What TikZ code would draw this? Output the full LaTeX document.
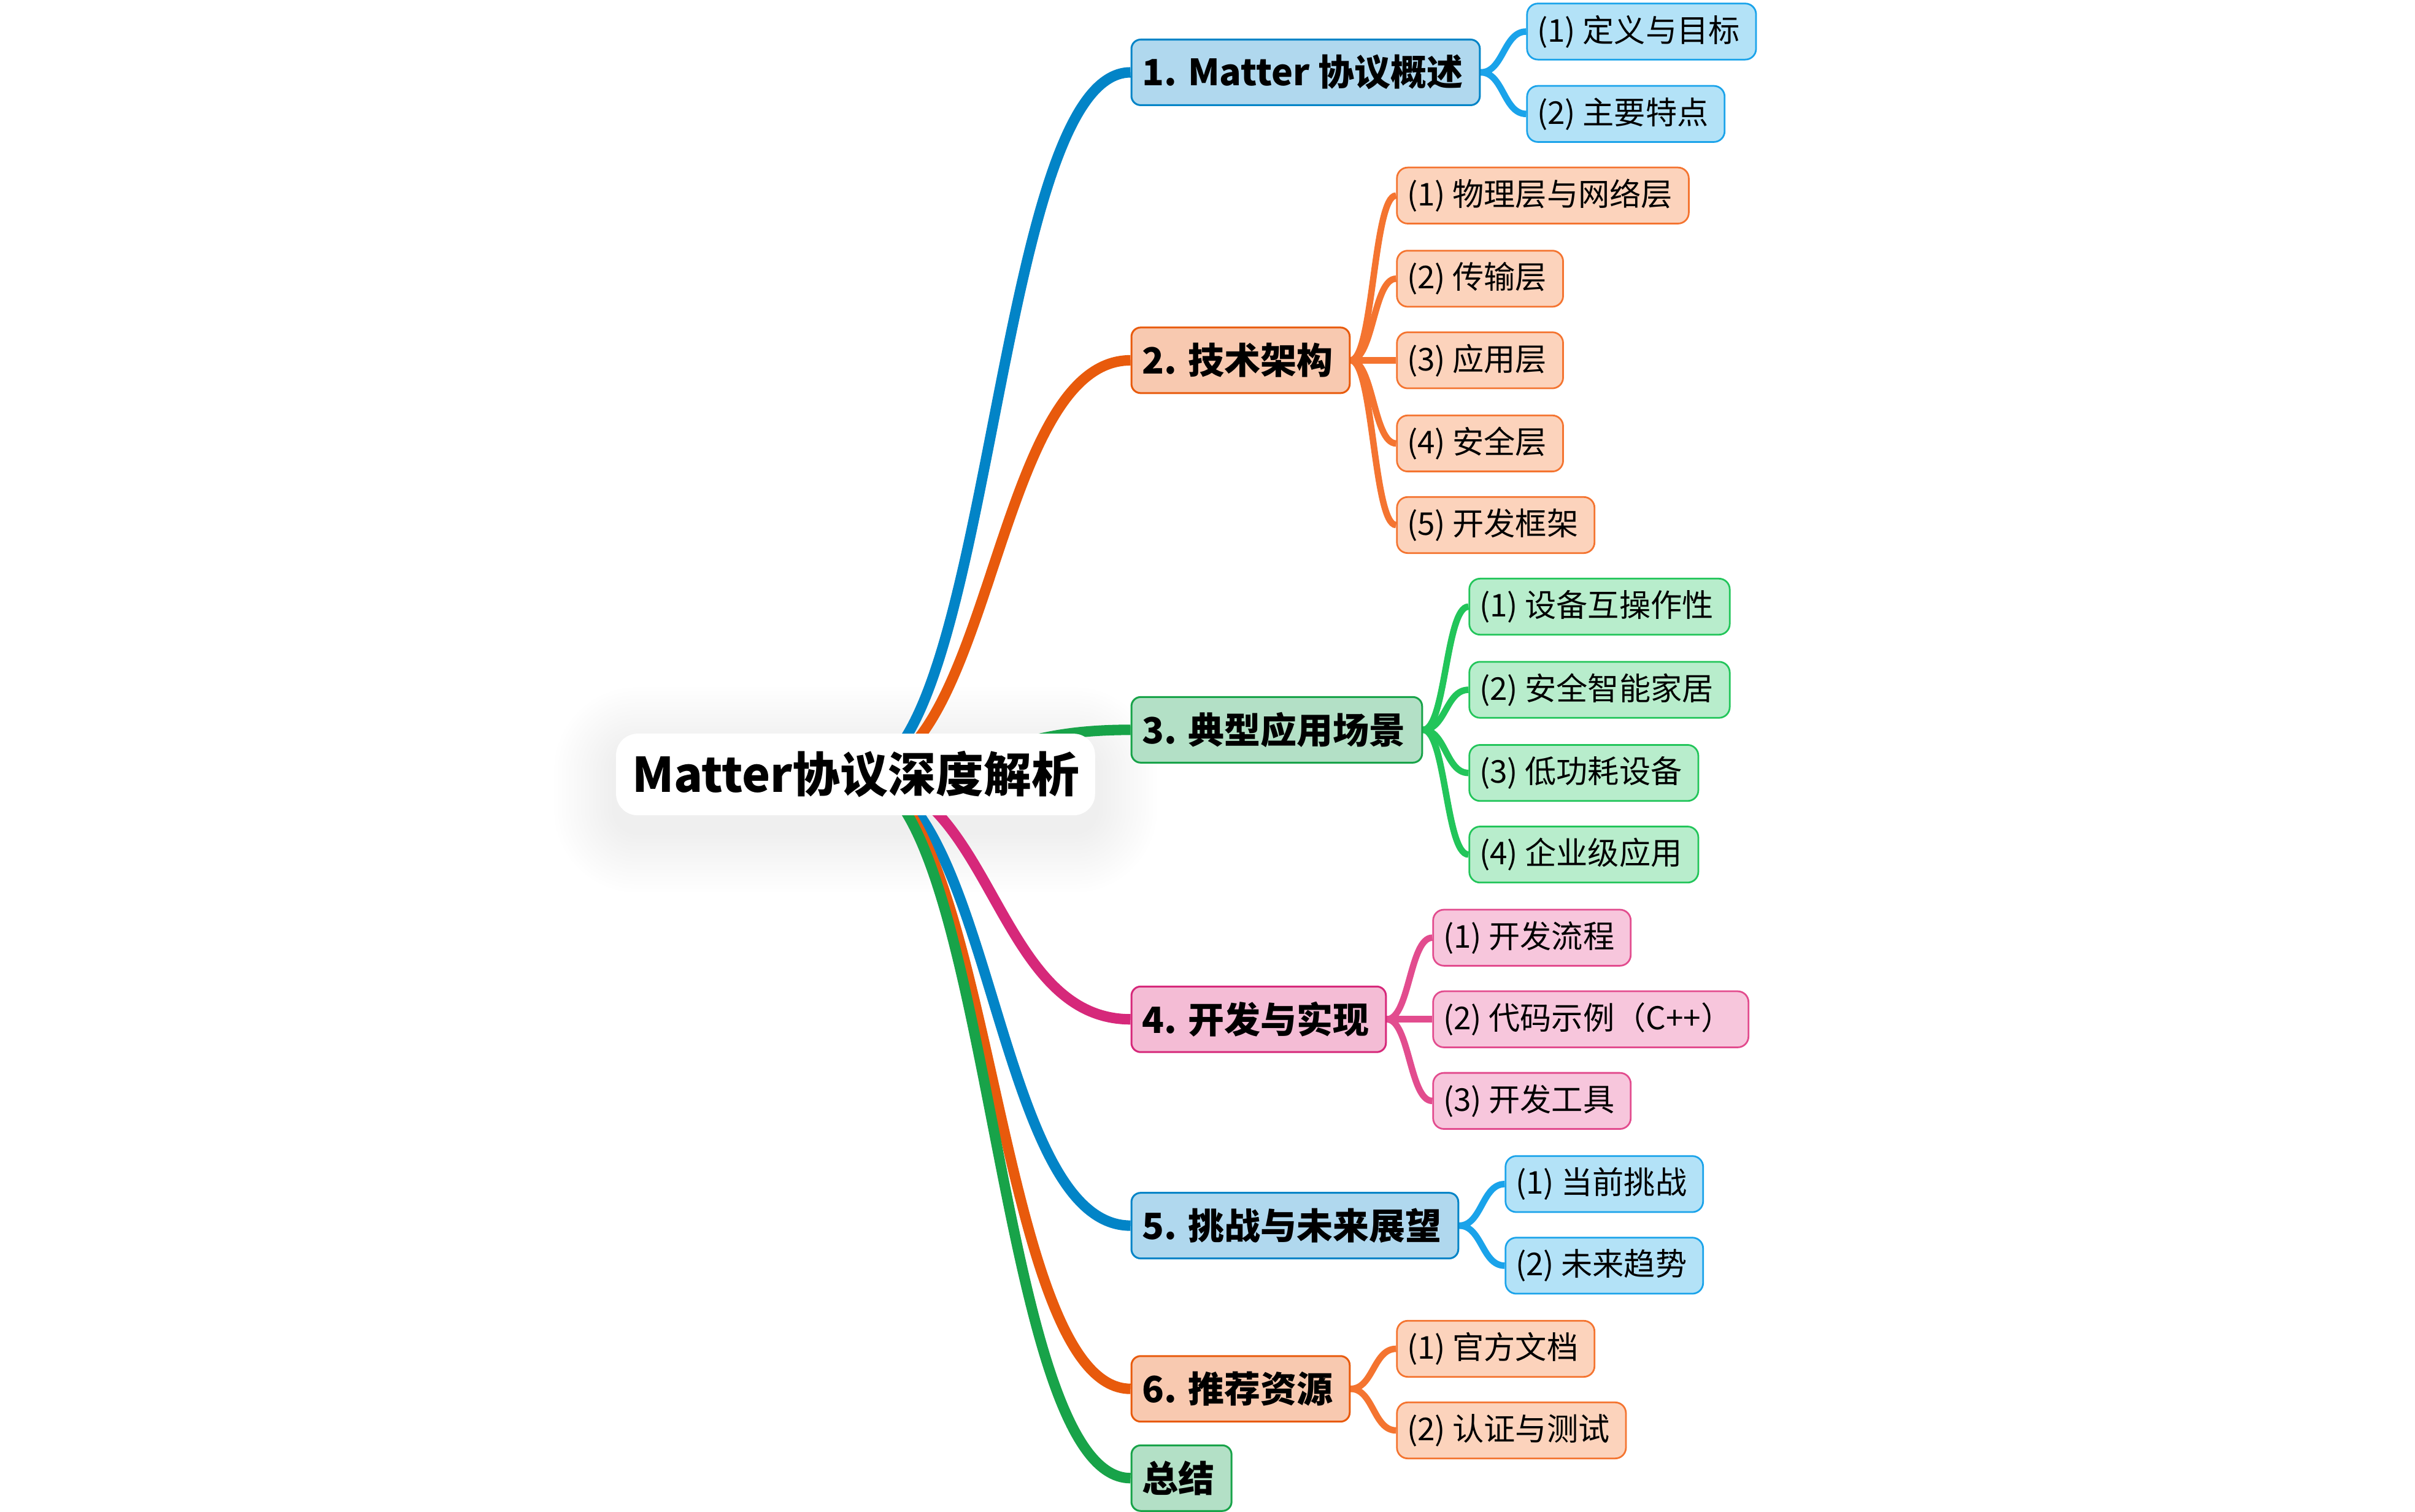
\documentclass[tikz,border=0pt]{standalone}
\usepackage{fontspec}
\setmainfont{Noto Sans CJK SC}
\usetikzlibrary{calc}
\definecolor{bA}{HTML}{0284C7}
\definecolor{bAf}{HTML}{B0D8EE}
\definecolor{bB}{HTML}{1AA3EA}
\definecolor{bBf}{HTML}{B3E2F7}
\definecolor{oA}{HTML}{E85A0C}
\definecolor{oAf}{HTML}{F8C9B0}
\definecolor{oB}{HTML}{F47430}
\definecolor{oBf}{HTML}{FCD3BC}
\definecolor{gA}{HTML}{18A349}
\definecolor{gAf}{HTML}{B3E0C6}
\definecolor{gB}{HTML}{22C55A}
\definecolor{gBf}{HTML}{B8EDCC}
\definecolor{pA}{HTML}{D6287A}
\definecolor{pAf}{HTML}{F4BCD5}
\definecolor{pB}{HTML}{E24C8E}
\definecolor{pBf}{HTML}{F7C6DC}
\pgfdeclarelayer{shadowlayer}
\pgfdeclarelayer{linelayer}
\pgfsetlayers{shadowlayer,linelayer,main}
\tikzset{
  rootbox/.style={fill=white, rounded corners=14pt, minimum width=311pt, minimum height=53pt, inner sep=0pt, font=\bfseries\fontsize{31}{31}\selectfont},
  lone/.style={draw, rounded corners=6pt, line width=1.2pt, minimum height=42.6pt, inner xsep=7pt, inner ysep=0pt, anchor=west, font=\bfseries\fontsize{23.5}{23.5}\selectfont, text=black, execute at end node={\hspace{4pt}}},
  ltwo/.style={draw, rounded corners=7pt, line width=1.1pt, minimum height=36.4pt, inner xsep=6.5pt, inner ysep=0pt, anchor=west, font=\fontsize{20.4}{20.4}\selectfont, text=black, execute at end node={\hspace{4pt}}},
  blueA/.style={fill=bAf, draw=bA},
  blueB/.style={fill=bBf, draw=bB},
  oraA/.style={fill=oAf, draw=oA},
  oraB/.style={fill=oBf, draw=oB},
  grnA/.style={fill=gAf, draw=gA},
  grnB/.style={fill=gBf, draw=gB},
  pnkA/.style={fill=pAf, draw=pA},
  pnkB/.style={fill=pBf, draw=pB},
  mainconn/.style={line width=6.8pt},
  subconn/.style={line width=4.2pt},
}
\newcommand\sconn[3]{\draw[#3] let \p1=(#1), \p2=(#2), \p3=($(\p1)!0.5!(\p2)$) in (\p1) .. controls (\x3,\y1) and (\x3,\y2) .. (\p2);}
\begin{document}
\begin{tikzpicture}[x=1pt,y=-1pt]
\useasboundingbox (0,0) rectangle (1568,981.6);
\node[rootbox] (r) at (555.5,503) {Matter协议深度解析};
\node[lone, blueA] (a) at (734,47) {1. Matter 协议概述};
\node[lone, oraA] (b) at (734,234) {2. 技术架构};
\node[lone, grnA] (c) at (734,474) {3. 典型应用场景};
\node[lone, pnkA] (d) at (734,662) {4. 开发与实现};
\node[lone, blueA] (e) at (734,796) {5. 挑战与未来展望};
\node[lone, oraA] (f) at (734,902) {6. 推荐资源};
\node[lone, grnA] (g) at (734,960) {总结};
% level 2
\node[ltwo, blueB] (a1) at ($(a.east)+(29.5,-26.5)$) {(1) 定义与目标};
\node[ltwo, blueB] (a2) at ($(a.east)+(29.5,27)$) {(2) 主要特点};
\node[ltwo, oraB] (b1) at ($(b.east)+(29.5,-107)$) {(1) 物理层与网络层};
\node[ltwo, oraB] (b2) at ($(b.east)+(29.5,-53)$) {(2) 传输层};
\node[ltwo, oraB] (b3) at ($(b.east)+(29.5,0)$) {(3) 应用层};
\node[ltwo, oraB] (b4) at ($(b.east)+(29.5,54)$) {(4) 安全层};
\node[ltwo, oraB] (b5) at ($(b.east)+(29.5,107)$) {(5) 开发框架};
\node[ltwo, grnB] (c1) at ($(c.east)+(29.5,-80)$) {(1) 设备互操作性};
\node[ltwo, grnB] (c2) at ($(c.east)+(29.5,-26)$) {(2) 安全智能家居};
\node[ltwo, grnB] (c3) at ($(c.east)+(29.5,28)$) {(3) 低功耗设备};
\node[ltwo, grnB] (c4) at ($(c.east)+(29.5,81)$) {(4) 企业级应用};
\node[ltwo, pnkB] (d1) at ($(d.east)+(29.5,-53)$) {(1) 开发流程};
\node[ltwo, pnkB] (d2) at ($(d.east)+(29.5,0)$) {(2) 代码示例（C++）};
\node[ltwo, pnkB] (d3) at ($(d.east)+(29.5,53)$) {(3) 开发工具};
\node[ltwo, blueB] (e1) at ($(e.east)+(29.5,-27)$) {(1) 当前挑战};
\node[ltwo, blueB] (e2) at ($(e.east)+(29.5,26)$) {(2) 未来趋势};
\node[ltwo, oraB] (f1) at ($(f.east)+(29.5,-26)$) {(1) 官方文档};
\node[ltwo, oraB] (f2) at ($(f.east)+(29.5,27)$) {(2) 认证与测试};
\begin{pgfonlayer}{shadowlayer}
\foreach \i in {1,...,16} {
  \fill[black, opacity=0.005, rounded corners={14pt+\i*2.5pt}] ($(r.south west)+(-\i*2.5,\i*2.5+10)$) rectangle ($(r.north east)+(\i*2.5,-\i*2.5+10)$);
}
\end{pgfonlayer}
\begin{pgfonlayer}{linelayer}
\sconn{r.center}{a.west}{mainconn, bA}
\sconn{r.center}{b.west}{mainconn, oA}
\sconn{r.center}{c.west}{mainconn, gA}
\sconn{r.center}{d.west}{mainconn, pA}
\sconn{r.center}{e.west}{mainconn, bA}
\sconn{r.center}{f.west}{mainconn, oA}
\sconn{r.center}{g.west}{mainconn, gA}
\foreach \pa/\ch/\col in {a/a1/bB, a/a2/bB, b/b1/oB, b/b2/oB, b/b3/oB, b/b4/oB, b/b5/oB, c/c1/gB, c/c2/gB, c/c3/gB, c/c4/gB, d/d1/pB, d/d2/pB, d/d3/pB, e/e1/bB, e/e2/bB, f/f1/oB, f/f2/oB} {
  \sconn{\pa.east}{\ch.west}{subconn, \col}
}
\end{pgfonlayer}
\end{tikzpicture}
\end{document}
